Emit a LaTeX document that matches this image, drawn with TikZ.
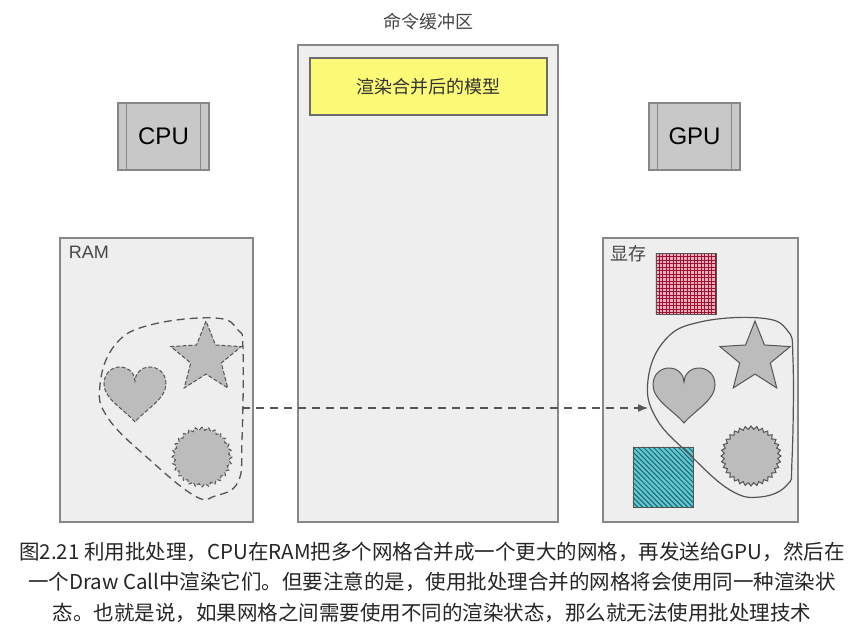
\documentclass[tikz,border=0pt]{standalone}
\usepackage{fontspec}
\setmainfont{Noto Sans CJK SC}
\newfontfamily\etiquettefont{Liberation Sans}
\usetikzlibrary{shapes.geometric,arrows.meta}
\definecolor{fondGris}{RGB}{238,238,238}
\definecolor{traitGris}{RGB}{135,135,135}
\definecolor{puceGris}{RGB}{200,200,200}
\definecolor{formeGris}{RGB}{188,188,188}
\definecolor{contourGris}{RGB}{85,85,85}
\definecolor{jauneCmd}{RGB}{252,250,118}
\definecolor{texteGris}{RGB}{70,70,70}
\definecolor{roseTex}{RGB}{240,170,185}
\definecolor{rougeTex}{RGB}{150,20,50}
\definecolor{bleuTex}{RGB}{95,200,210}
\definecolor{bleuFonce}{RGB}{30,100,110}

\tikzset{
  boite/.style={draw=traitGris, fill=fondGris, line width=1.2pt, inner sep=0pt},
  puce/.style={boite, fill=puceGris, minimum width=91pt, minimum height=67pt,
               text=black, font=\etiquettefont\fontsize{24}{28}\selectfont},
  forme/.style={fill=formeGris, draw=contourGris, line width=1pt},
  pointille/.style={forme, dash pattern=on 4pt off 2pt},
  etoile/.style={star, star points=5, star point ratio=2.3, minimum size=74pt, inner sep=0pt},
  soleil/.style={star, star points=32, star point ratio=1.12, minimum size=60pt, inner sep=0pt},
  coeur/.pic={
    \path[pic actions] (0,28) .. controls (-10,16) and (-31,5) .. (-31,-10)
      .. controls (-31,-22) and (-22,-27) .. (-15,-27)
      .. controls (-6,-27) and (0,-20) .. (0,-13)
      .. controls (0,-20) and (6,-27) .. (15,-27)
      .. controls (22,-27) and (31,-22) .. (31,-10)
      .. controls (31,5) and (10,16) .. (0,28) -- cycle;
  },
}

\begin{document}
\begin{tikzpicture}[x=1pt, y=-1pt]
\useasboundingbox[fill=white] (0,0) rectangle (864,642);

% processeurs
\node[puce] (cpu) at (163.5,136.5) {CPU};
\node[puce] (gpu) at (694.5,136.5) {GPU};
\foreach \p in {cpu,gpu} {
  \draw[traitGris, line width=1.2pt] ([xshift=9pt]\p.north west) -- ([xshift=9pt]\p.south west);
  \draw[traitGris, line width=1.2pt] ([xshift=-9pt]\p.north east) -- ([xshift=-9pt]\p.south east);
}

% tampon de commandes
\node[boite, minimum width=260pt, minimum height=477pt] (tampon) at (428,283.5) {};
\node[text=texteGris, font=\fontsize{18}{21}\selectfont] (titreTampon) at (428,22) {命令缓冲区};
\node[boite, fill=jauneCmd, draw=traitGris!80!black, minimum width=237pt, minimum height=57pt,
      text=black!80, font=\fontsize{18}{21}\selectfont] (fusion) at (428.5,86.5) {渲染合并后的模型};

% memoires
\node[boite, minimum width=193pt, minimum height=284pt] (ram) at (156.5,380) {};
\node[boite, minimum width=195pt, minimum height=284pt] (vram) at (700.5,380) {};
\node[anchor=north west, text=texteGris, font=\etiquettefont\fontsize{18}{21}\selectfont] (ramLabel)
  at ([xshift=6pt,yshift=-5pt]ram.north west) {RAM};
\node[anchor=north west, text=texteGris, font=\fontsize{18}{21}\selectfont] (vramLabel)
  at ([xshift=5pt,yshift=-4pt]vram.north west) {显存};

% textures
\node[fill=roseTex, minimum size=60pt, inner sep=0pt] (texRose) at (686,283.5) {};
\begin{scope}
  \clip (texRose.north west) rectangle (texRose.south east);
  \foreach \i in {0,3.5,...,60} {
    \draw[rougeTex, line width=0.8pt] ([xshift=\i pt]texRose.north west) -- ([xshift=\i pt]texRose.south west);
    \draw[rougeTex, line width=0.8pt] ([yshift=-\i pt]texRose.north west) -- ([yshift=-\i pt]texRose.north east);
  }
\end{scope}
\draw[contourGris] (texRose.north west) rectangle (texRose.south east);
\node[fill=bleuTex, minimum size=60pt, inner sep=0pt] (texBleu) at (663,477) {};
\begin{scope}
  \clip (texBleu.north west) rectangle (texBleu.south east);
  \foreach \i in {-60,-55,...,60}
    \draw[bleuFonce, line width=1pt] ([xshift=\i pt]texBleu.north west) -- ([xshift=\i pt+60pt]texBleu.south west);
\end{scope}
\draw[contourGris] (texBleu.north west) rectangle (texBleu.south east);

% maillages separes (RAM)
\draw[contourGris, line width=1.3pt, dash pattern=on 8pt off 5pt]
  plot[smooth cycle, tension=0.7] coordinates {(215,318) (238,330) (243,350) (242,440) (238,482)
    (215,496) (195,496) (150,460) (108,418) (100,385) (115,345) (150,325)};
\pic[pointille] (coeurRam) at (135,394) {coeur};
\node[pointille, etoile] (etoileRam) at (206,358) {};
\node[pointille, soleil, star points=28] (soleilRam) at (202,457) {};

% maillage fusionne (VRAM)
\draw[contourGris, line width=1.2pt]
  plot[smooth cycle, tension=0.7] coordinates {(760,318) (787,330) (793,360) (792,460) (787,485)
    (760,497) (730,490) (690,455) (656,418) (648,380) (665,340) (700,322)};
\pic[forme] (coeurVram) at (684,395) {coeur};
\node[forme, etoile] (etoileVram) at (755,358) {};
\node[forme, soleil] (soleilVram) at (751,456) {};

% envoi
\coordinate (depart) at (242,408);
\coordinate (arrivee) at (648,408);
\draw[contourGris, line width=1.3pt, dash pattern=on 8pt off 6pt, -{Latex[length=10pt,width=8pt]}]
  (depart) -- (arrivee);

% legende
\node[align=center, text=black!85, font=\fontsize{20.5}{30.5}\selectfont] (legende) at (432,582)
  {图2.21 利用批处理，CPU在RAM把多个网格合并成一个更大的网格，再发送给GPU，然后在\\
   一个Draw Call中渲染它们。但要注意的是，使用批处理合并的网格将会使用同一种渲染状\\
   态。也就是说，如果网格之间需要使用不同的渲染状态，那么就无法使用批处理技术};

\end{tikzpicture}
\end{document}
